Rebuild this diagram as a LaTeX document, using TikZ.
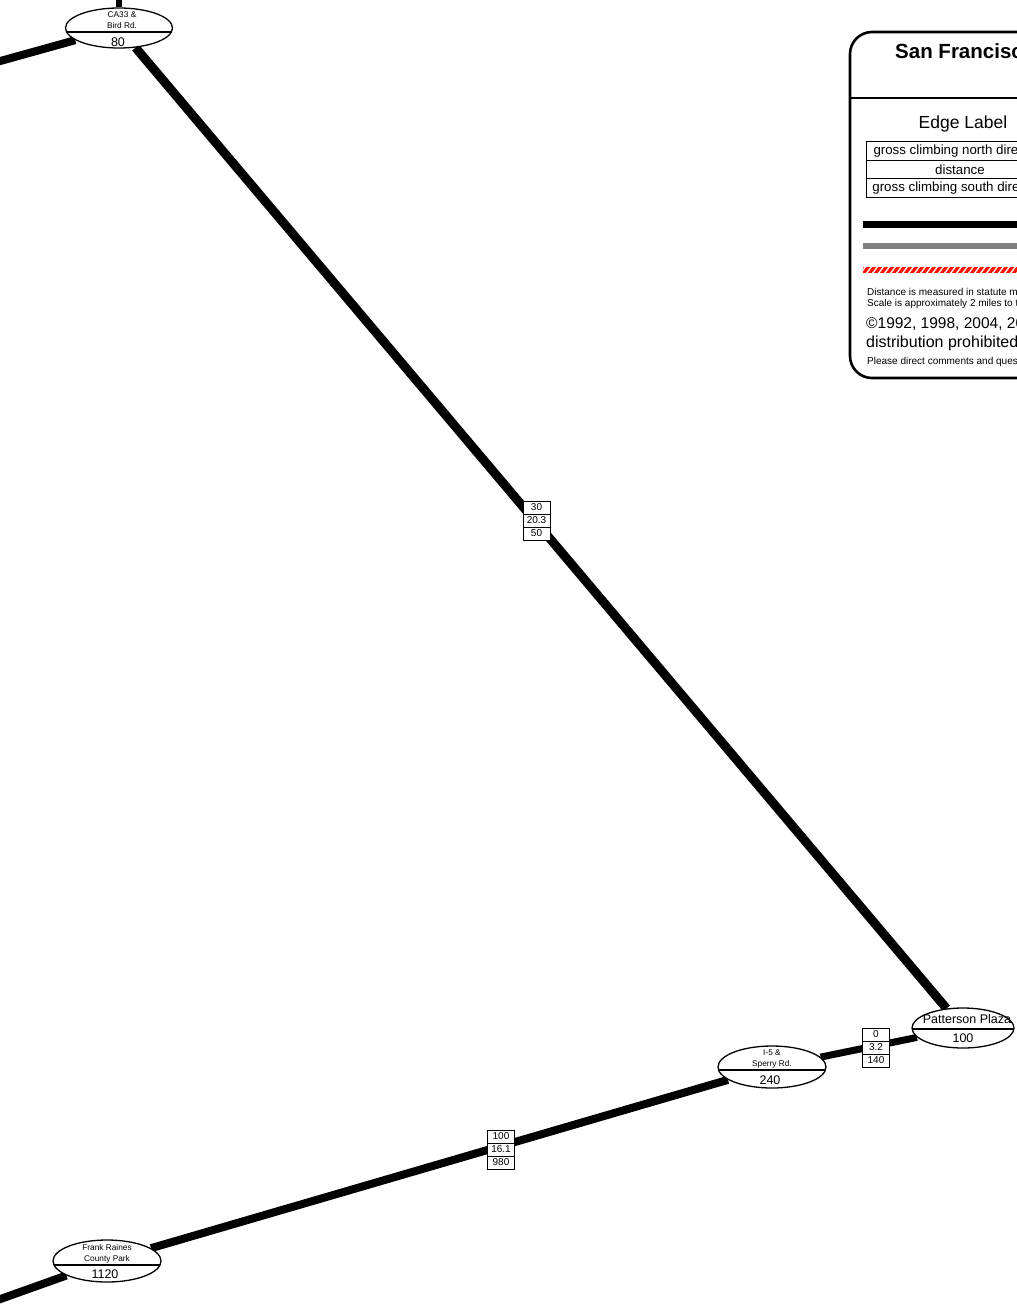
\documentclass[tikz,border=0pt]{standalone}
\usepackage{fontspec}
\setmainfont{Liberation Sans}
\usetikzlibrary{shapes.geometric,backgrounds}
\begin{document}
\begin{tikzpicture}[x=1pt,y=-1pt,
  place/.style={ellipse,draw,line width=1.3pt,fill=white,inner sep=0pt},
  small/.style={font=\fontsize{8.3}{9}\selectfont,inner sep=0pt},
  num/.style={font=\fontsize{12.5}{13}\selectfont,inner sep=0pt},
  lbl/.style={draw,line width=0.7pt,fill=white,minimum width=27pt,minimum height=13pt,inner sep=0pt,font=\fontsize{10}{11}\selectfont},
  road/.style={line width=9pt,black},
  tbl/.style={draw,line width=0.8pt,minimum width=188pt,minimum height=18.5pt,inner sep=0pt,font=\fontsize{13.3}{14}\selectfont}]
\useasboundingbox (0,0) rectangle (1017,1304);
\clip (0,0) rectangle (1017,1304);
% places
\node[place,minimum width=107pt,minimum height=40pt] (ca33) at (119,28) {};
\node[place,minimum width=102pt,minimum height=40pt] (pat) at (963,1028) {};
\node[place,minimum width=108pt,minimum height=42pt] (i5) at (772,1067) {};
\node[place,minimum width=108pt,minimum height=42pt] (frank) at (107,1261) {};
\coordinate (ca33top) at (119,-50);
\coordinate (ca33left) at (-50,75);
\coordinate (frankleft) at (-50,1317);
% dividers
\begin{scope}\clip (119,28) ellipse (53.5pt and 20pt); \draw[line width=1.3pt] (50,32) -- (190,32);\end{scope}
\begin{scope}\clip (963,1028) ellipse (51pt and 20pt); \draw[line width=1.3pt] (900,1029) -- (1030,1029);\end{scope}
\begin{scope}\clip (772,1067) ellipse (54pt and 21pt); \draw[line width=1.3pt] (700,1070) -- (840,1070);\end{scope}
\begin{scope}\clip (107,1261) ellipse (54pt and 21pt); \draw[line width=1.3pt] (40,1265) -- (180,1265);\end{scope}
% place texts
\node[small] (t1) at (122,15) {CA33 \&};
\node[small] (t2) at (122,26) {Bird Rd.};
\node[num] (t3) at (118,42) {80};
\node[font=\fontsize{12.5}{13}\selectfont,inner sep=0pt] (t4) at (967,1019) {Patterson Plaza};
\node[num] (t5) at (963,1038) {100};
\node[small] (t6) at (772,1053) {I-5 \&};
\node[small] (t7) at (772,1064) {Sperry Rd.};
\node[num] (t8) at (770,1080) {240};
\node[small] (t9) at (107,1248) {Frank Raines};
\node[small] (t10) at (107,1259) {County Park};
\node[num] (t11) at (105,1274) {1120};
% edges
\begin{pgfonlayer}{background}
\draw[road] (ca33) -- (pat);
\draw[road,line width=7pt] (pat) -- (i5);
\draw[road,line width=8pt] (i5) -- (frank);
\draw[road,line width=8pt] (ca33) -- (ca33left);
\draw[road,line width=6pt] (ca33) -- (ca33top);
\draw[road,line width=8pt] (frank) -- (frankleft);
\end{pgfonlayer}
% edge labels
\node[lbl] (e1a) at (536.5,507.5) {30};
\node[lbl] (e1b) at (536.5,520.5) {20.3};
\node[lbl] (e1c) at (536.5,533.5) {50};
\node[lbl] (e2a) at (876,1034.5) {0};
\node[lbl] (e2b) at (876,1047.5) {3.2};
\node[lbl] (e2c) at (876,1060.5) {140};
\node[lbl] (e3a) at (501,1136.5) {100};
\node[lbl] (e3b) at (501,1149.5) {16.1};
\node[lbl] (e3c) at (501,1162.5) {980};
% legend
\draw[line width=2.6pt,rounded corners=22pt,fill=white] (850,32) rectangle (1120,378);
\draw[line width=1.3pt] (850,98) -- (1120,98);
\node[anchor=west,inner sep=0pt,font=\fontsize{20.5}{21}\bfseries] (title) at (895,51) {San Francisco};
\node[inner sep=0pt,font=\fontsize{17.5}{18}\selectfont] (el) at (963,124) {Edge Label};
\node[tbl] (r1) at (960,151) {gross climbing north direction};
\node[tbl] (r2) at (960,169.5) {distance};
\node[tbl] (r3) at (960,188) {gross climbing south direction};
\fill[black] (863,220.5) rectangle (1120,227.5);
\fill[black!50] (863,243) rectangle (1120,249);
\begin{scope}
\clip (863,267) rectangle (1120,273);
\fill[red!85!orange] (863,267) rectangle (1120,273);
\foreach \i in {0,...,45} {\draw[white,line width=1.3pt] (860+6*\i,274) -- (866+6*\i,266);}
\end{scope}
\node[anchor=west,inner sep=0pt,font=\fontsize{10}{11}\selectfont] (n1) at (867,292) {Distance is measured in statute miles.};
\node[anchor=west,inner sep=0pt,font=\fontsize{10}{11}\selectfont] (n2) at (867,304) {Scale is approximately 2 miles to the inch.};
\node[anchor=west,inner sep=0pt,font=\fontsize{15.5}{16}\selectfont] (n3) at (866,324) {©1992, 1998, 2004, 2008};
\node[anchor=west,inner sep=0pt,font=\fontsize{16}{17}\selectfont] (n4) at (866,343) {distribution prohibited};
\node[anchor=west,inner sep=0pt,font=\fontsize{10}{11}\selectfont] (n5) at (867,362) {Please direct comments and questions};
\end{tikzpicture}
\end{document}
